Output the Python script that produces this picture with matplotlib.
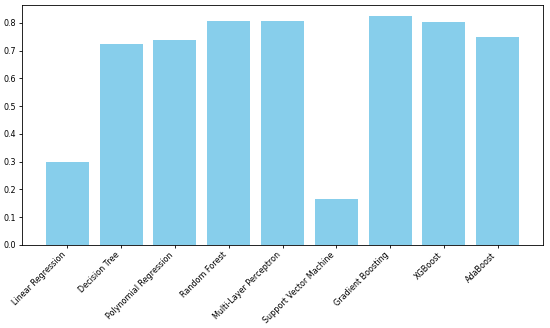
import matplotlib
matplotlib.use("Agg")
import matplotlib.pyplot as plt

models = ["Linear Regression", "Decision Tree", "Polynomial Regression", "Random Forest",
          "Multi-Layer Perceptron", "Support Vector Machine", "Gradient Boosting",
          "XGBoost", "AdaBoost"]
scores = [0.300, 0.723, 0.739, 0.806, 0.808, 0.165, 0.823, 0.802, 0.748]

fig = plt.figure(figsize=(5.5, 3.28), dpi=100)
ax = fig.add_axes([22/550, 1 - 245/328, 521/550, 240/328])
ax.bar(models, scores, color="skyblue")
ax.set_xticks(range(len(models)))
ax.set_xticklabels(models, rotation=45, ha="right", fontsize=5.8)
ax.tick_params(axis="y", labelsize=5.8, length=2.5, width=0.6, pad=2)
ax.tick_params(axis="x", length=2.5, width=0.6, pad=1.5)
for s in ax.spines.values():
    s.set_linewidth(0.6)
fig.savefig("out.png", dpi=100)
